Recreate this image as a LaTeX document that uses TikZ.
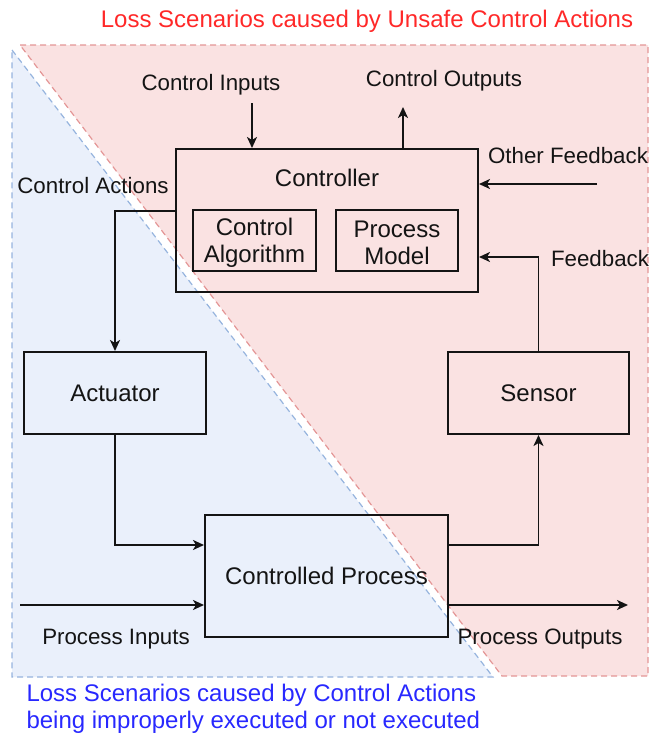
\documentclass[tikz,border=0pt]{standalone}
\usepackage{fontspec}
\setmainfont{Liberation Sans}
\usetikzlibrary{arrows.meta}
\definecolor{zonered}{RGB}{250,226,226}
\definecolor{zoneredline}{RGB}{228,150,150}
\definecolor{zoneblue}{RGB}{234,240,251}
\definecolor{zoneblueline}{RGB}{150,180,222}
\definecolor{titlered}{RGB}{255,40,40}
\definecolor{titleblue}{RGB}{40,40,255}
\definecolor{ink}{RGB}{20,20,20}
\begin{document}
\begin{tikzpicture}[x=1pt,y=-1pt,
  every node/.style={font=\fontsize{22.3}{26}\selectfont, text=ink},
  block/.style={draw=ink, line width=2pt, inner sep=0pt, align=center, font=\fontsize{24}{27}\selectfont},
  flow/.style={draw=ink, line width=1.9pt, -{Stealth[length=11pt,width=10pt,inset=3pt]}},
  lbl/.style={inner sep=1pt},
  zonetext/.style={font=\fontsize{24}{27}\selectfont}]
\useasboundingbox (0,0) rectangle (650,737);

% scenario zones
\fill[zonered] (20,45) -- (648,45) -- (648,676) -- (502,676) -- cycle;
\draw[zoneredline, line width=1.2pt, dash pattern=on 6pt off 4pt] (20,45) -- (648,45) -- (648,676) -- (502,676) -- cycle;
\fill[zoneblue] (12,50) -- (493,677) -- (12,677) -- cycle;
\draw[zoneblueline, line width=1.2pt, dash pattern=on 6pt off 4pt] (12,50) -- (493,677) -- (12,677) -- cycle;

\node[zonetext, text=titlered] (ttl) at (367,21) {Loss Scenarios caused by Unsafe Control Actions};
\node[zonetext, text=titleblue, anchor=west] (tb1) at (23,695) {Loss Scenarios caused by Control Actions};
\node[zonetext, text=titleblue, anchor=west] (tb2) at (23,722) {being improperly executed or not executed};

% blocks
\node[block, minimum width=302pt, minimum height=143pt] (ctrl) at (327,220.5) {};
\node[font=\fontsize{24}{27}\selectfont] (ctrltxt) at (327,178) {Controller};
\node[block, minimum width=123pt, minimum height=61pt] (alg) at (254.5,240.5) {};
\node[block, minimum width=122pt, minimum height=61pt] (pm) at (397,240.5) {};
\node[align=center, font=\fontsize{24}{27}\selectfont] (algtxt) at (254.5,242.5) {Control\\Algorithm};
\node[align=center, font=\fontsize{24}{27}\selectfont] (pmtxt) at (397,242.5) {Process\\Model};
\node[block, minimum width=182pt, minimum height=82pt] (act) at (115,393) {Actuator};
\node[block, minimum width=181pt, minimum height=82pt] (sen) at (538.5,393) {Sensor};
\node[block, minimum width=243pt, minimum height=122pt] (proc) at (326.5,576) {Controlled Process};

% free ends
\coordinate (cin) at (252,103);
\coordinate (cout) at (403,107);
\coordinate (ofb) at (597,184);
\coordinate (pin) at (20,605);
\coordinate (pout) at (628,605);

% connectors
\draw[flow] (cin) -- (cin |- ctrl.north);
\draw[flow] (cout |- ctrl.north) -- (cout);
\draw[flow] (ofb) -- (ofb -| ctrl.east);
\draw[flow] (sen.north) |- (ctrl.east |- 0,257);
\draw[flow] (ctrl.west |- 0,211) -| (act.north);
\draw[flow] (act.south) |- (proc.west |- 0,545);
\draw[flow] (proc.east |- 0,545) -| (sen.south);
\draw[flow] (pin) -- (pin -| proc.west);
\draw[flow] (proc.east |- pout) -- (pout);

% labels
\node[lbl] (l1) at (211,85) {Control Inputs};
\node[lbl] (l2) at (444,81) {Control Outputs};
\node[lbl] (l3) at (568,156) {Other Feedback};
\node[lbl] (l4) at (600,259) {Feedback};
\node[lbl] (l5) at (93,186) {Control Actions};
\node[lbl] (l6) at (116,639) {Process Inputs};
\node[lbl] (l7) at (540,639) {Process Outputs};
\end{tikzpicture}
\end{document}
